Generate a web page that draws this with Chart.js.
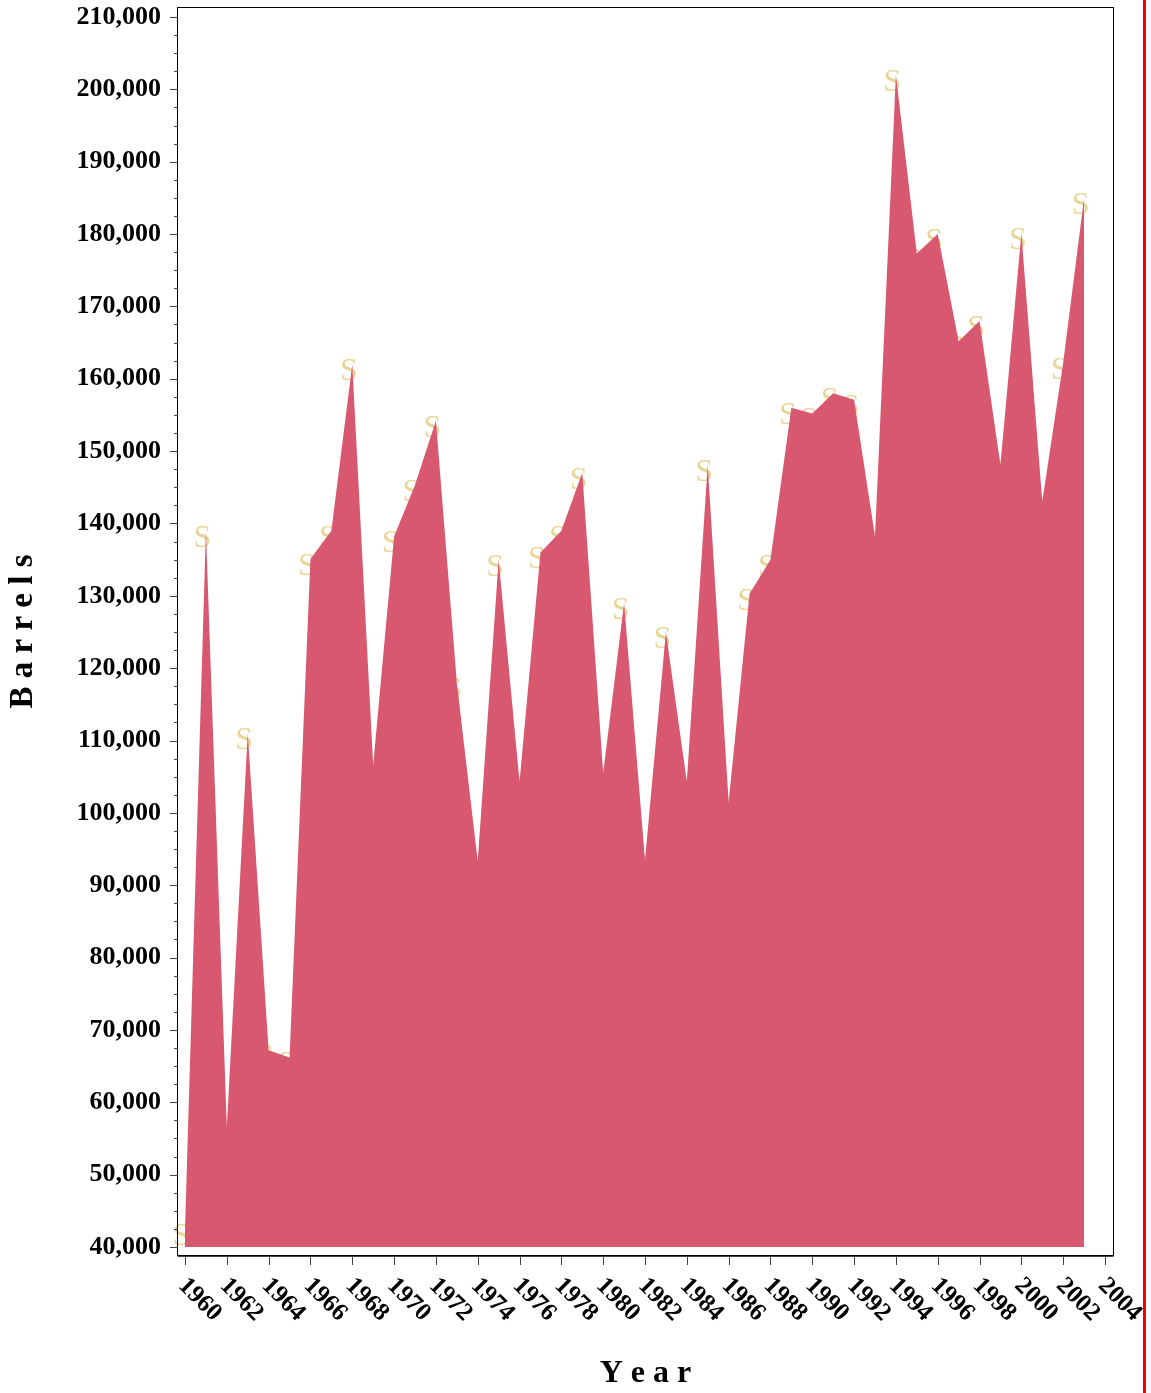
<!DOCTYPE html>
<html>
<head>
<meta charset="utf-8">
<script src="https://cdn.jsdelivr.net/npm/chart.js@4.4.1/dist/chart.umd.min.js"></script>
<style>
  html, body { margin: 0; padding: 0; background: #fff; overflow: hidden; }
  #wrap { position: relative; width: 1151px; height: 1393px; }
  #edge { position: absolute; left: 1143px; top: 0; width: 3px; height: 1393px; background: #ff0000; }
</style>
</head>
<body>
<div id="wrap">
  <canvas id="chart" width="1151" height="1393"></canvas>
  <div id="edge"></div>
</div>
<script>
// data
const years = [1960, 1961, 1962, 1963, 1964, 1965, 1966, 1967, 1968, 1969,
  1970, 1971, 1972, 1973, 1974, 1975, 1976, 1977, 1978, 1979,
  1980, 1981, 1982, 1983, 1984, 1985, 1986, 1987, 1988, 1989,
  1990, 1991, 1992, 1993, 1994, 1995, 1996, 1997, 1998, 1999,
  2000, 2001, 2002, 2003];
const barrels = [42500, 139000, 56600, 111000, 67200, 66200, 135100, 139000, 162000, 106600,
  138200, 145300, 154200, 118000, 93300, 135000, 104300, 136000, 139000, 147000,
  105500, 129000, 93500, 125000, 104300, 148100, 101500, 130300, 135000, 156000,
  155200, 158000, 157100, 138200, 202000, 177300, 180000, 165200, 168000, 148100,
  180100, 143000, 162200, 185000];
const xTicks = [1960, 1962, 1964, 1966, 1968, 1970, 1972, 1974, 1976, 1978, 1980,
  1982, 1984, 1986, 1988, 1990, 1992, 1994, 1996, 1998, 2000, 2002, 2004];
const yTicks = [40000, 50000, 60000, 70000, 80000, 90000, 100000, 110000, 120000,
  130000, 140000, 150000, 160000, 170000, 180000, 190000, 200000, 210000];

const serif = "'Liberation Serif', 'Times New Roman', serif";
const areaColor = 'rgb(216, 88, 112)';
const markColor = '#e8d697';

// "S" symbols sit under the filled area
const symbolPlugin = {
  id: 'symbols',
  beforeDatasetsDraw(chart) {
    const { ctx, scales: { x, y } } = chart;
    ctx.save();
    ctx.fillStyle = markColor;
    ctx.font = '32px ' + serif;
    ctx.textAlign = 'center';
    ctx.textBaseline = 'alphabetic';
    years.forEach((yr, i) => {
      ctx.fillText('S', x.getPixelForValue(yr) - 3.5, y.getPixelForValue(barrels[i]) + 16);
    });
    ctx.restore();
  }
};

// frame, tick marks and slanted year labels
const framePlugin = {
  id: 'frame',
  afterDraw(chart) {
    const { ctx, chartArea: a, scales: { x, y } } = chart;
    ctx.save();
    ctx.strokeStyle = '#000';
    ctx.lineWidth = 1;
    ctx.strokeRect(a.left - 0.5, a.top - 0.5, a.right - a.left + 1, a.bottom - a.top + 1);
    ctx.strokeStyle = '#444';
    ctx.beginPath();
    ctx.moveTo(a.left - 0.5, a.bottom + 1.5);
    ctx.lineTo(a.right + 0.5, a.bottom + 1.5);
    // y ticks: major every 10,000, minor every 2,500
    for (let v = yTicks[0]; v <= yTicks[yTicks.length - 1]; v += 2500) {
      const py = Math.round(y.getPixelForValue(v)) + 0.5;
      const len = v % 10000 === 0 ? 8 : 4;
      ctx.moveTo(a.left - len, py);
      ctx.lineTo(a.left, py);
    }
    x.ticks.forEach(t => {
      const px = Math.round(x.getPixelForValue(t.value)) + 0.5;
      ctx.moveTo(px, a.bottom + 1);
      ctx.lineTo(px, a.bottom + 10);
    });
    ctx.stroke();

    ctx.fillStyle = '#000';
    ctx.font = 'bold 25px ' + serif;
    ctx.textAlign = 'left';
    ctx.textBaseline = 'middle';
    x.ticks.forEach(t => {
      ctx.save();
      ctx.translate(x.getPixelForValue(t.value) - 3, a.bottom + 27);
      ctx.rotate(Math.PI / 4);
      ctx.fillText(String(t.value), 0, 0);
      ctx.restore();
    });
    ctx.restore();
  }
};

new Chart(document.getElementById('chart'), {
  type: 'line',
  data: {
    datasets: [{
      data: years.map((yr, i) => ({ x: yr, y: barrels[i] })),
      fill: { value: 40000 },
      backgroundColor: areaColor,
      borderWidth: 0,
      pointRadius: 0,
      tension: 0
    }]
  },
  options: {
    responsive: false,
    animation: false,
    layout: { padding: { top: 8, right: 38, bottom: 0, left: 0 } },
    plugins: { legend: { display: false }, tooltip: { enabled: false } },
    scales: {
      x: {
        type: 'linear',
        min: 1959.665,
        max: 2004.383,
        afterBuildTicks: s => { s.ticks = xTicks.map(v => ({ value: v })); },
        afterFit: s => { s.height = 138; s.paddingLeft = 0; s.paddingRight = 0; },
        grid: { display: false, drawTicks: false },
        border: { display: false },
        ticks: { display: false },
        title: {
          display: true,
          text: 'Y e a r',
          color: '#000',
          font: { family: serif, size: 32, weight: 'bold' },
          padding: { top: 0, bottom: 0 }
        }
      },
      y: {
        type: 'linear',
        min: 38894,
        max: 211244,
        afterBuildTicks: s => { s.ticks = yTicks.map(v => ({ value: v })); },
        afterFit: s => { s.width = 178; s.paddingTop = 0; s.paddingBottom = 0; },
        grid: { display: false, drawTicks: false },
        border: { display: false },
        ticks: {
          autoSkip: false,
          padding: 17,
          color: '#000',
          font: { family: serif, size: 26, weight: 'bold' },
          callback: v => v.toLocaleString('en-US')
        },
        title: {
          display: true,
          text: 'B a r r e l s',
          color: '#000',
          font: { family: serif, size: 33, weight: 'bold' },
          padding: { top: 4, bottom: 0 }
        }
      }
    }
  },
  plugins: [symbolPlugin, framePlugin]
});
</script>
</body>
</html>
